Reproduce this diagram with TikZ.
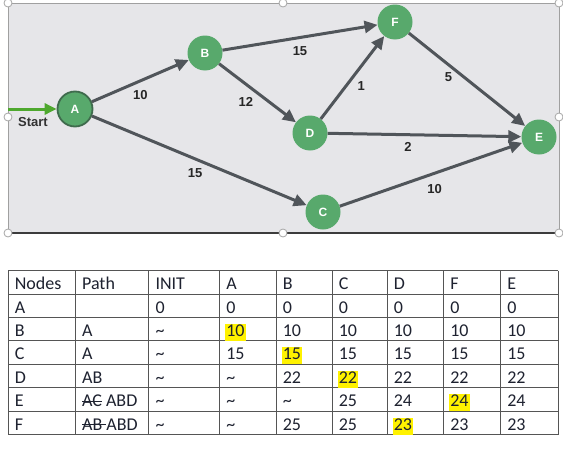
\documentclass[tikz,border=0pt]{standalone}
\usepackage{fontspec}
\setmainfont{Carlito}
\newfontfamily\labelfont{Liberation Sans}
\usetikzlibrary{arrows.meta}
\definecolor{ink}{HTML}{1E2230}
\definecolor{panelgray}{HTML}{E6E6E9}
\definecolor{panelline}{HTML}{A0A0A0}
\definecolor{panelbottom}{HTML}{3C3C3C}
\definecolor{nodegreen}{HTML}{58A96C}
\definecolor{nodeedge}{HTML}{3F6B4D}
\definecolor{edgegray}{HTML}{50555A}
\definecolor{startgreen}{HTML}{4EA82E}
\definecolor{hlyellow}{HTML}{FFF200}
\definecolor{gridgray}{HTML}{555555}

\newcommand{\nv}{\textasciitilde}
\newcommand{\strk}[2][0pt]{\setbox0\hbox{#2}\rlap{\rule[0.3em]{\dimexpr\wd0+#1\relax}{0.7pt}}\box0}

\tikzset{
  vertex/.style={circle,minimum size=35pt,inner sep=0pt,fill=nodegreen,
    text=white,font=\labelfont\bfseries\fontsize{12}{12}\selectfont},
  edge/.style={draw=edgegray,line width=3pt,-{Triangle[length=13pt,width=12pt]}},
  weight/.style={inner sep=1.5pt,text=black!85,font=\labelfont\bfseries\fontsize{13}{13}\selectfont},
  cell/.style={anchor=base west,inner sep=0pt,text=ink,font=\fontsize{18}{20}\selectfont},
  hlcell/.style={cell,fill=hlyellow,inner xsep=1pt,xshift=-1pt,text height=12.5pt,text depth=4.5pt},
  handle/.style={fill=white,draw=gray!70,line width=0.8pt}
}

\begin{document}
\begin{tikzpicture}[x=1pt,y=-1pt]
  \fill[white] (0,0) rectangle (563,450);
  \useasboundingbox (0,0) rectangle (563,450);

  % graph panel
  \fill[panelgray] (8,3) rectangle (559,233);
  \draw[panelline,line width=0.8pt] (8,233) -- (8,3) -- (559,3) -- (559,233);
  \draw[panelbottom,line width=1.2pt] (8,233) -- (559,233);

  \node[vertex,draw=nodeedge,line width=1.8pt] (A) at (75,109) {A};
  \node[vertex] (B) at (205,53) {B};
  \node[vertex] (F) at (395,22) {F};
  \node[vertex] (D) at (310,133) {D};
  \node[vertex] (E) at (539,137) {E};
  \node[vertex] (C) at (323,212) {C};

  \coordinate (start) at (8,109);
  \draw[startgreen,line width=3pt,-{Triangle[length=12pt,width=11pt]}] (start) -- (A);
  \node[weight,text=black!80] (startlabel) at (33,122) {Start};

  \draw[edge] (A) -- (B) node[weight,midway,below=6.5pt] {10};
  \draw[edge] (B) -- (F) node[weight,midway,below=6.2pt] {15};
  \draw[edge] (B) -- (D) node[weight,midway,below left=1.5pt] {12};
  \draw[edge] (D) -- (F) node[weight,pos=0.4,right=8.5pt] {1};
  \draw[edge] (F) -- (E) node[weight,pos=0.47,left=8.5pt] {5};
  \draw[edge] (D) -- (E) node[weight,pos=0.415,below=4.5pt] {2};
  \draw[edge] (A) -- (C) node[weight,pos=0.48,below=6.5pt] {15};
  \draw[edge] (C) -- (E) node[weight,pos=0.52,below=8.5pt] {10};

  \foreach \hx/\hy in {8/3,283/3,559/3,8/117,559/117,8/233,283/233,559/233}
    \filldraw[handle] (\hx,\hy) circle (4pt);

  % table
  \def\tabletop{270.7}
  \def\rowheight{23.4}
  \def\colx{{8,75.3,148.7,219.5,276,332,387,443.5,500.5}}

  \foreach \gx in {8,75.3,148.7,219.5,276,332,387,443.5,500.5,558}
    \draw[gridgray,line width=0.9pt] (\gx,\tabletop) -- (\gx,434.5);
  \foreach \r in {0,...,7}
    \draw[gridgray,line width=0.9pt] (8,\tabletop+\r*\rowheight) -- (558,\tabletop+\r*\rowheight);

  \newcommand{\tablerow}[3]{%
    \pgfmathsetmacro{\rowbase}{\tabletop+(#1+1)*\rowheight-4.5}
    \foreach \entry [count=\col from 0] in {#2}{
      \pgfmathsetmacro{\xx}{\colx[\col]+6.6}
      \ifnum\col=#3 \def\cellkind{hlcell}\else\def\cellkind{cell}\fi
      \node[\cellkind] (cell-#1-\col) at (\xx,\rowbase) {\entry};
    }
  }

  \tablerow{0}{Nodes,Path,INIT,A,B,C,D,F,E}{-1}
  \tablerow{1}{A,,0,0,0,0,0,0,0}{-1}
  \tablerow{2}{B,A,\nv,10,10,10,10,10,10}{3}
  \tablerow{3}{C,A,\nv,15,15,15,15,15,15}{4}
  \tablerow{4}{D,AB,\nv,\nv,22,22,22,22,22}{5}
  \tablerow{5}{E,\strk{AC}\ ABD,\nv,\nv,\nv,25,24,24,24}{7}
  \tablerow{6}{F,\strk[4pt]{AB}\ ABD,\nv,\nv,25,25,23,23,23}{6}
\end{tikzpicture}
\end{document}
